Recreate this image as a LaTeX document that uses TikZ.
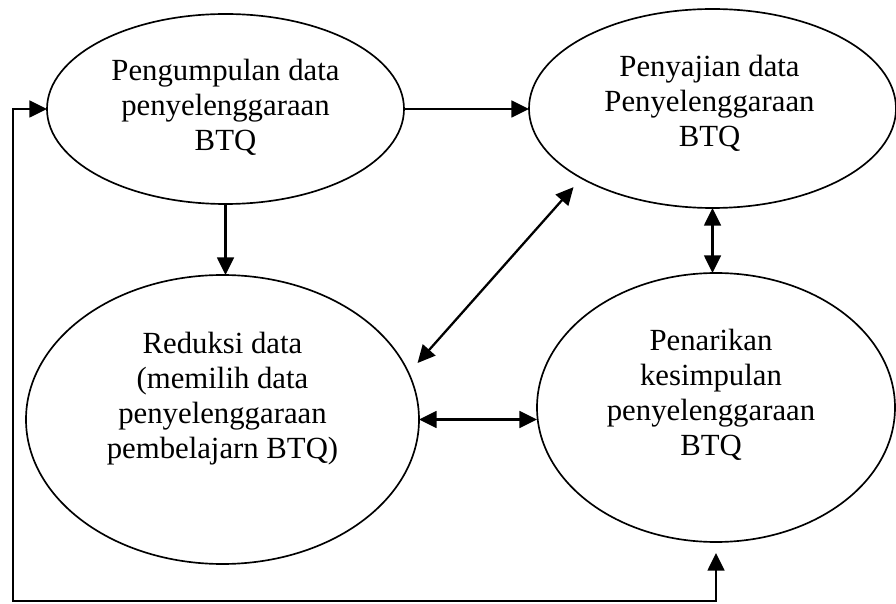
\documentclass[tikz,border=0pt]{standalone}
\usepackage{fontspec}
\setmainfont{Liberation Serif}
\usepackage{tikz}
\usetikzlibrary{shapes.geometric}
\usetikzlibrary{arrows.meta}
\tikzset{
    myellipse/.style = {ellipse, draw=black, line width=0.95pt, inner sep=0pt, outer sep=0pt},
    mytext/.style = {align=center, inner sep=0pt, font=\fontsize{17.5}{19.9}\selectfont},
}
\begin{document}
\begin{tikzpicture}[
	line width=1.3pt
]
\tikzset{
    edgen/.style = {-{Triangle[length=10pt,width=9.5pt]}},
    edged/.style = {{Triangle[length=10pt,width=9.5pt]}-{Triangle[length=10pt,width=9.5pt]}},
}
\useasboundingbox (0,0) rectangle (17.92,12.06);
\node[myellipse, minimum width=7.14cm, minimum height=3.80cm] at (4.51,9.88) (kumpul) {};
\node[myellipse, minimum width=7.34cm, minimum height=3.98cm] at (14.25,9.89) (sajian) {};
\node[myellipse, minimum width=7.86cm, minimum height=5.78cm] at (4.45,3.67) (reduksi) {};
\node[myellipse, minimum width=7.16cm, minimum height=5.38cm] at (14.32,3.91) (tarik) {};
%
\node[mytext] at ([yshift=0.04cm]kumpul.center) (tkumpul) {Pengumpulan data\\penyelenggaraan\\BTQ};
\node[mytext] at ([xshift=-0.06cm,yshift=0.11cm]sajian.center) (tsajian) {Penyajian data\\Penyelenggaraan\\BTQ};
\node[mytext] at ([yshift=0.41cm]reduksi.center) (treduksi) {Reduksi data\\(memilih data\\penyelenggaraan\\pembelajarn BTQ)};
\node[mytext] at ([xshift=-0.1cm,yshift=0.26cm]tarik.center) (ttarik) {Penarikan\\kesimpulan\\penyelenggaraan\\BTQ};
%
\draw[edgen] (kumpul.east) -- (kumpul.east -| sajian.west);
\draw[edgen] (kumpul.south) -- (kumpul.south |- reduksi.north);
\draw[edged] (sajian.south) -- (sajian.south |- tarik.north);
\draw[edged] (reduksi.east) -- (reduksi.east -| tarik.west);
\draw[edged, shorten <=0.27cm, shorten >=0.24cm] (reduksi.14) -- (sajian.208);
%
\coordinate (sudut) at (0.26,0.04);
\draw[edged, shorten <=0.22cm] (tarik.south) |- (sudut) |- (kumpul.west);
\end{tikzpicture}
\end{document}
